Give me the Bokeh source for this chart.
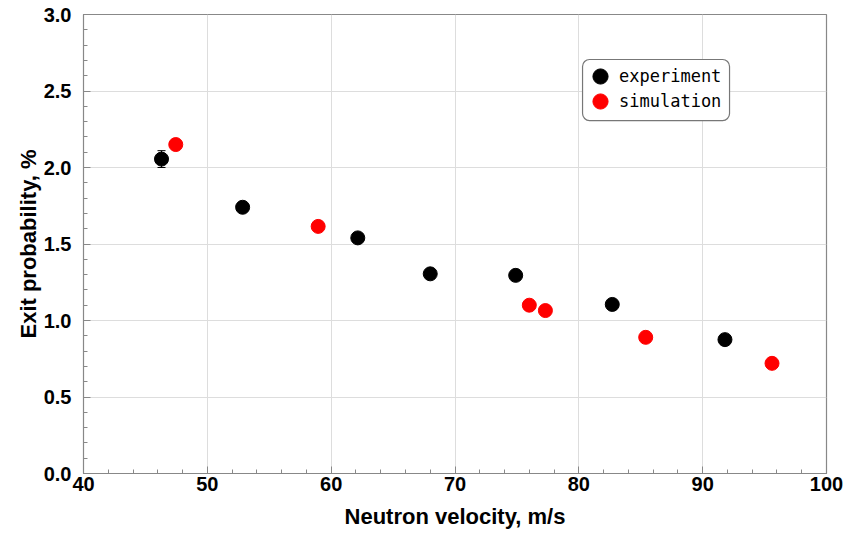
from bokeh.plotting import figure
from bokeh.models import (ColumnDataSource, Whisker, Legend, LegendItem, FixedTicker,
                          CustomJSTickFormatter, BoxAnnotation)
from bokeh.embed import file_html
from bokeh.resources import INLINE

exp_v = [46.3, 52.85, 62.15, 68.0, 74.9, 82.7, 91.8]
exp_p = [2.055, 1.74, 1.54, 1.305, 1.295, 1.105, 0.875]
exp_err = [0.055, 0.02, 0.02, 0.02, 0.02, 0.02, 0.02]

sim_v = [47.45, 58.95, 76.0, 77.3, 85.4, 95.6]
sim_p = [2.15, 1.615, 1.10, 1.065, 0.89, 0.72]

x_ticks = [40, 50, 60, 70, 80, 90, 100]
y_ticks = [0.0, 0.5, 1.0, 1.5, 2.0, 2.5, 3.0]

p = figure(width=858, height=537, x_range=(40, 100), y_range=(0, 3.0),
           output_backend="svg", toolbar_location=None,
           min_border_left=83, min_border_right=32, min_border_top=14, min_border_bottom=64)
p.background_fill_color = "white"
p.border_fill_color = "white"
p.outline_line_color = "#888888"
p.outline_line_width = 1.2

for ax in (p.xaxis[0], p.yaxis[0]):
    ax.axis_line_color = "#888888"
    ax.major_tick_line_color = "#888888"
    ax.minor_tick_line_color = "#888888"
    ax.major_tick_in = 7
    ax.major_tick_out = 0
    ax.minor_tick_in = 4
    ax.minor_tick_out = 0
    ax.major_label_text_font = "Liberation Sans"
    ax.major_label_text_font_style = "bold"
    ax.major_label_text_font_size = "20px"
    ax.major_label_text_color = "black"
    ax.axis_label_text_font = "Liberation Sans"
    ax.axis_label_text_font_style = "bold"
    ax.axis_label_text_font_size = "22px"
    ax.axis_label_text_color = "black"

p.xaxis.ticker = FixedTicker(ticks=x_ticks, minor_ticks=[x for x in range(40, 101, 2)])
p.yaxis.ticker = FixedTicker(ticks=y_ticks, minor_ticks=[i / 10 for i in range(0, 31)])
p.yaxis.formatter = CustomJSTickFormatter(code="return tick.toFixed(1);")
p.xaxis.axis_label = "Neutron velocity, m/s"
p.yaxis.axis_label = "Exit probability, %"
p.xaxis.major_label_standoff = 3
p.yaxis.major_label_standoff = 12
p.xaxis.axis_label_standoff = 10
p.yaxis.axis_label_standoff = 0

p.xgrid.grid_line_color = "#dddddd"
p.ygrid.grid_line_color = "#dddddd"
p.xgrid.ticker = FixedTicker(ticks=x_ticks)
p.ygrid.ticker = FixedTicker(ticks=y_ticks)

exp_src = ColumnDataSource(dict(x=exp_v, y=exp_p,
                                lo=[a - b for a, b in zip(exp_p, exp_err)],
                                hi=[a + b for a, b in zip(exp_p, exp_err)]))
sim_src = ColumnDataSource(dict(x=sim_v, y=sim_p))

w = Whisker(source=exp_src, base="x", upper="hi", lower="lo", line_color="black", line_width=1.2)
w.upper_head.size = 8
w.lower_head.size = 8
w.upper_head.line_color = "black"
w.lower_head.line_color = "black"
p.add_layout(w)

r_exp = p.scatter("x", "y", source=exp_src, size=14, fill_color="black", line_color="black")
r_sim = p.scatter("x", "y", source=sim_src, size=14, fill_color="red", line_color="red")

# legend frame (rounded box)
legend_box = BoxAnnotation(left=80.3, right=92.17, bottom=2.307, top=2.706,
                           fill_color="white", fill_alpha=1.0,
                           line_color="#777777", line_width=1.2, line_alpha=1.0,
                           border_radius=7, level="annotation")
p.add_layout(legend_box)


def make_legend(label, renderer, y_loc):
    lg = Legend(items=[LegendItem(label=label, renderers=[renderer])], location=(498, y_loc))
    lg.label_text_font = "DejaVu Sans Mono"
    lg.label_text_font_size = "17px"
    lg.label_text_color = "black"
    lg.border_line_color = None
    lg.background_fill_alpha = 0
    lg.glyph_width = 38
    lg.glyph_height = 38
    lg.label_height = 38
    lg.padding = 0
    lg.margin = 0
    lg.spacing = 0
    lg.label_standoff = -3
    return lg


p.add_layout(make_legend("experiment", r_exp, 378))
p.add_layout(make_legend("simulation", r_sim, 353))

open("out.html", "w").write(file_html(p, INLINE))
